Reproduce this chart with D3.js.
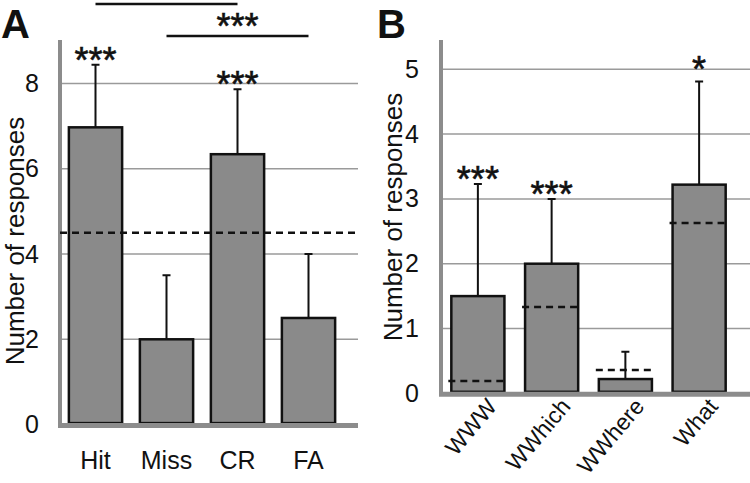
<!DOCTYPE html>
<html>
<head>
<meta charset="utf-8">
<script src="https://cdn.jsdelivr.net/npm/d3@7"></script>
<style>
  body { margin: 0; background: #fff; }
  text { font-family: "Liberation Sans", Arial, sans-serif; fill: #111; }
</style>
</head>
<body>
<svg id="chart" width="750" height="483"></svg>
<script>
// Panel A data
var catsA = ['Hit', 'Miss', 'CR', 'FA'];
var valuesA = [6.97, 2.0, 6.34, 2.5];
var errorsA = [8.44, 3.5, 7.86, 4.0];
var starsA = ['***', '', '***', ''];
var chanceA = 4.5;
var ticksA = [0, 2, 4, 6, 8];
// brackets: [from, to, level, label]
var bracketsA = [['Hit', 'CR', 9.86, ''], ['Miss', 'FA', 9.11, '***']];

// Panel B data
var catsB = ['WWW', 'WWhich', 'WWhere', 'What'];
var valuesB = [1.5, 2.0, 0.22, 3.22];
var errorsB = [3.23, 3.0, 0.64, 4.81];
var chanceB = [0.19, 1.33, 0.36, 2.63];
var starsB = ['***', '***', '', '*'];
var ticksB = [0, 1, 2, 3, 4, 5];

var svg = d3.select('#chart');

// draws one panel, returns the scales
function drawPanel(opt) {
  var g = svg.append('g');
  var x = d3.scaleBand().domain(opt.cats).range(opt.xRange)
      .paddingInner(opt.pad).paddingOuter(opt.pad / 2);
  var y = d3.scaleLinear().domain(opt.yDomain).range(opt.yRange);

  // gridlines
  g.selectAll('.grid').data(opt.ticks.filter(function(d) { return d > 0; }))
    .enter().append('line')
      .attr('x1', opt.xRange[0]).attr('x2', opt.gridEnd)
      .attr('y1', function(d) { return y(d); }).attr('y2', function(d) { return y(d); })
      .attr('stroke', '#9a9a9a').attr('stroke-width', 1.5);

  // y axis with tick labels only
  var yAxis = d3.axisLeft(y).tickValues(opt.ticks).tickFormat(d3.format('d'))
      .tickSize(0).tickPadding(opt.tickPad);
  var ax = g.append('g').attr('transform', 'translate(' + opt.xRange[0] + ',0)').call(yAxis);
  ax.select('.domain').remove();
  ax.selectAll('text').style('font-size', '25px')
    .style('font-family', '"Liberation Sans", Arial, sans-serif').attr('fill', '#111');

  // error bars
  var cap = 4;
  g.selectAll('.err').data(opt.cats).enter().append('path')
    .attr('d', function(d, i) {
      var cx = x(d) + x.bandwidth() / 2;
      return 'M' + cx + ',' + y(opt.values[i]) + 'V' + y(opt.errors[i]) +
             'M' + (cx - cap) + ',' + y(opt.errors[i]) + 'H' + (cx + cap);
    })
    .attr('stroke', '#111').attr('stroke-width', 2).attr('fill', 'none');

  // bars
  g.selectAll('.bar').data(opt.cats).enter().append('rect')
    .attr('x', function(d) { return x(d); })
    .attr('width', x.bandwidth())
    .attr('y', function(d, i) { return y(opt.values[i]); })
    .attr('height', function(d, i) { return y(0) - y(opt.values[i]) - 1.5; })
    .attr('fill', '#8a8a8a').attr('stroke', '#111').attr('stroke-width', 2.5);

  // axis lines (thick grey)
  g.append('line').attr('x1', opt.xRange[0]).attr('x2', opt.xRange[0])
    .attr('y1', opt.axisTop).attr('y2', y(0) + 2.5)
    .attr('stroke', '#8c8c8c').attr('stroke-width', 4);
  g.append('line').attr('x1', opt.xRange[0] - 2).attr('x2', opt.gridEnd)
    .attr('y1', y(0) + 1).attr('y2', y(0) + 1)
    .attr('stroke', '#8c8c8c').attr('stroke-width', 5);

  // stars (a lone star sits a bit higher)
  g.selectAll('.star').data(opt.cats).enter().append('text')
    .attr('x', function(d) { return x(d) + x.bandwidth() / 2; })
    .attr('y', function(d, i) { return y(opt.errors[i]) + (opt.stars[i].length == 1 ? 0 : 8); })
    .attr('text-anchor', 'middle')
    .style('font-size', '36px')
    .attr('stroke', '#111').attr('stroke-width', 0.6)
    .text(function(d, i) { return opt.stars[i]; });

  // y label
  g.append('text')
    .attr('transform', 'translate(' + opt.labelX + ',' + opt.labelY + ') rotate(-90)')
    .attr('text-anchor', 'middle')
    .style('font-size', '26px')
    .text('Number of responses');

  // panel letter
  g.append('text').attr('x', opt.letterX).attr('y', 38)
    .style('font-size', '40px').style('font-weight', 'bold')
    .text(opt.letter);

  return { x: x, y: y, g: g };
}

// Panel A
var A = drawPanel({
  cats: catsA, values: valuesA, errors: errorsA, stars: starsA, ticks: ticksA,
  xRange: [60, 344], pad: 0.25, gridEnd: 358,
  yDomain: [0, 8], yRange: [424.6, 83.4], axisTop: 40, tickPad: 21,
  labelX: 24, labelY: 241, letter: 'A', letterX: 1
});

// chance level dashed line
A.g.append('line')
  .attr('x1', 60).attr('x2', 358)
  .attr('y1', A.y(chanceA)).attr('y2', A.y(chanceA))
  .attr('stroke', '#111').attr('stroke-width', 2.5).attr('stroke-dasharray', '7,5');

// significance brackets
bracketsA.forEach(function(b) {
  var x1 = A.x(b[0]) + A.x.bandwidth() / 2;
  var x2 = A.x(b[1]) + A.x.bandwidth() / 2;
  A.g.append('line').attr('x1', x1).attr('x2', x2)
    .attr('y1', A.y(b[2])).attr('y2', A.y(b[2]))
    .attr('stroke', '#111').attr('stroke-width', 2.5);
  A.g.append('text').attr('x', (x1 + x2) / 2).attr('y', A.y(b[2]) + 3)
    .attr('text-anchor', 'middle').style('font-size', '36px')
    .attr('stroke', '#111').attr('stroke-width', 0.6).text(b[3]);
});

// Category labels A
A.g.selectAll('.cat').data(catsA).enter().append('text')
  .attr('x', function(d) { return A.x(d) + A.x.bandwidth() / 2; })
  .attr('y', 469)
  .attr('text-anchor', 'middle')
  .style('font-size', '25px')
  .text(function(d) { return d; });

// Panel B
var B = drawPanel({
  cats: catsB, values: valuesB, errors: errorsB, stars: starsB, ticks: ticksB,
  xRange: [441, 736], pad: 0.28, gridEnd: 750,
  yDomain: [0, 5], yRange: [393.3, 69.3], axisTop: 40, tickPad: 22,
  labelX: 402, labelY: 217, letter: 'B', letterX: 377
});

// per-category chance dashes
B.g.selectAll('.chance').data(catsB).enter().append('line')
  .attr('x1', function(d) { return B.x(d) - 3; })
  .attr('x2', function(d) { return B.x(d) + B.x.bandwidth() + 3; })
  .attr('y1', function(d, i) { return B.y(chanceB[i]); })
  .attr('y2', function(d, i) { return B.y(chanceB[i]); })
  .attr('stroke', '#111').attr('stroke-width', 2.5).attr('stroke-dasharray', '7,5');

// rotated category labels B
B.g.selectAll('.cat').data(catsB).enter().append('text')
  .attr('transform', function(d) {
    return 'translate(' + (B.x(d) + B.x.bandwidth() / 2 + 20) + ',407) rotate(-50)';
  })
  .attr('text-anchor', 'end')
  .style('font-size', '23px')
  .text(function(d) { return d; });
</script>
</body>
</html>
